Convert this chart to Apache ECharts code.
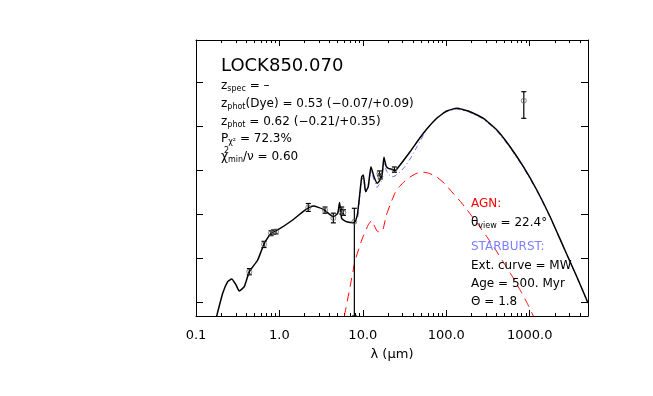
<!DOCTYPE html>
<html><head><meta charset="utf-8">
<script src="https://cdn.jsdelivr.net/npm/echarts@6/dist/echarts.min.js"></script>
<style>html,body{margin:0;padding:0;background:#fff}#c{width:653px;height:396px}</style>
</head><body><div id="c"></div>
<script>
// ---- axis ticks ----
const xMajorTicks = [0.1, 1, 10, 100, 1000];
const xMinorTicks = [0.2,0.3,0.4,0.5,0.6,0.7,0.8,0.9, 2,3,4,5,6,7,8,9, 20,30,40,50,60,70,80,90,
  200,300,400,500,600,700,800,900, 2000,3000,4000];
const yTicks = [0, 1, 2, 3, 4, 5];

// ---- total model (black) : wavelength (um), log flux (decades) ----
const totalLambda = [0.177,0.209,0.240,0.268,0.302,0.330,0.379,0.436,0.549,0.659,0.793,0.954,1.44,2.08,2.55,3.36,4.43,5.00,5.26,5.58,6.41,7.91,8.59,9.70,10.14,10.8,11.6,12.5,13.6,14.9,16.9,17.9,19.0,20.2,22.2,24.3,27.9,36.8,53.1,76.9,101,134,184,279,404,582,840,1217,1757,2536,3672,5000];
const totalFlux   = [-0.31,0.209,0.473,0.534,0.398,0.261,0.359,0.700,0.966,1.345,1.573,1.648,1.875,2.118,2.193,2.118,1.950,2.027,2.273,1.909,1.836,1.814,1.989,2.859,2.898,2.518,2.632,3.086,2.859,2.709,2.859,3.300,3.102,3.050,3.027,2.995,3.125,3.427,3.845,4.186,4.352,4.414,4.352,4.186,3.920,3.541,3.086,2.557,1.950,1.268,0.586,-0.01];

// ---- AGN component (red dashed) ----
const agnLambda = [6.0,7.03,8.06,9.70,11.6,12.7,13.6,14.8,16.1,17.5,19.0,21.2,24.3,27.9,33.9,42.3,49.9,60.5,75.5,96.8,117,146,178,234,308,385,480,615,767,931,1107];
const agnFlux   = [-0.31,0.352,0.943,1.420,1.761,1.864,1.761,1.625,1.591,1.670,1.966,2.216,2.489,2.648,2.807,2.920,2.966,2.943,2.864,2.693,2.511,2.307,2.102,1.807,1.489,1.216,0.927,0.602,0.284,-0.011,-0.31];

// ---- starburst component (blue dash-dot) ----
const sbLambda = [8.7,9.64,10.05,10.8,11.5,12.5,13.6,14.8,16.8,17.9,19.0,20.2,22.2,24.3,27.9,32.1,36.8,45.9,58.9,77.6,101,134,184,279,404,582,840,1217,1757,2536,3672,5000];
const sbFlux   = [1.95,2.784,2.830,2.489,2.580,3.011,2.784,2.614,2.761,3.216,3.011,2.920,2.852,2.875,2.966,3.091,3.261,3.580,3.955,4.205,4.341,4.398,4.335,4.17,3.90,3.52,3.07,2.54,1.94,1.26,0.58,-0.02];

// ---- photometry: wavelength, value, lower, upper ----
const obsLambda = [0.436,0.654,0.793,0.850,0.910,2.22,3.52,4.43,5.58,5.84,7.91,15.8,16.2,23.9,850];
const obsFlux   = [0.700,1.323,1.573,1.602,1.609,2.159,2.102,1.920,2.091,2.045,1.836,2.932,2.864,3.023,4.586];
const obsLow    = [0.63,1.25,1.52,1.55,1.56,2.07,2.03,1.81,2.01,1.98,-0.307,2.88,2.81,2.96,4.186];
const obsHigh   = [0.77,1.39,1.63,1.65,1.66,2.25,2.17,2.03,2.17,2.11,2.141,2.99,2.92,3.08,4.791];

const FONT = '"DejaVu Sans", sans-serif';
const YMIN = -0.307, YMAX = 5.966;
const zip = (a, b) => a.map((v, i) => [v, b[i]]);

function xAxis(pos, ticks, len, showLine, showLabel) {
  return {
    type: 'log', position: pos, min: 0.1, max: 5000, logBase: 10,
    axisLine: { show: showLine, onZero: false, lineStyle: { color: '#000', width: 1 } },
    axisTick: { show: true, inside: true, length: len, customValues: ticks, lineStyle: { color: '#000', width: 1 } },
    axisLabel: showLabel ? { show: true, customValues: xMajorTicks, margin: 13, color: '#000',
      fontFamily: FONT, fontSize: 13, formatter: v => (+v).toFixed(1) } : { show: false },
    splitLine: { show: false }, minorTick: { show: false },
    name: showLabel ? 'λ (μm)' : '', nameLocation: 'middle', nameGap: 32,
    nameTextStyle: { color: '#000', fontFamily: FONT, fontSize: 13 }
  };
}
function yAxis(pos) {
  return {
    type: 'value', position: pos, min: YMIN, max: YMAX,
    axisLine: { show: true, onZero: false, lineStyle: { color: '#000', width: 1 } },
    axisTick: { show: true, inside: true, length: 7, customValues: yTicks, lineStyle: { color: '#000', width: 1 } },
    axisLabel: { show: false }, splitLine: { show: false }
  };
}

const errorSeries = {
  type: 'custom', xAxisIndex: 0, yAxisIndex: 0, z: 5, silent: true,
  data: obsLambda.map((l, i) => [l, obsFlux[i], obsLow[i], obsHigh[i]]),
  renderItem: (params, api) => {
    const x = api.value(0);
    const top = api.coord([x, api.value(3)]);
    const bot = api.coord([x, api.value(2)]);
    const st = { stroke: '#000', lineWidth: 1.2 };
    return { type: 'group', children: [
      { type: 'line', shape: { x1: top[0], y1: top[1], x2: bot[0], y2: bot[1] }, style: st },
      { type: 'line', shape: { x1: top[0]-2.5, y1: top[1], x2: top[0]+2.5, y2: top[1] }, style: st },
      { type: 'line', shape: { x1: bot[0]-2.5, y1: bot[1], x2: bot[0]+2.5, y2: bot[1] }, style: st }
    ]};
  }
};

function rich() {
  return {
    m: { fontFamily: FONT, fontSize: 12, fill: '#000' },
    sub: { fontFamily: FONT, fontSize: 8, fill: '#000', padding: [6, 0, 0, 0] },
    r: { fontFamily: FONT, fontSize: 12, fill: '#ff0000' },
    b: { fontFamily: FONT, fontSize: 12, fill: '#8080ff' }
  };
}
function txt(x, y, text) {
  return { type: 'text', x: x, y: y, z: 100, style: { text: text, rich: rich(), verticalAlign: 'middle', align: 'left' } };
}

const option = {
  animation: false,
  backgroundColor: '#fff',
  grid: { left: 196, top: 40, right: 65, bottom: 80, containLabel: false },
  xAxis: [
    xAxis('bottom', xMajorTicks, 6, true, true),
    xAxis('bottom', xMinorTicks, 3, false, false),
    xAxis('top', xMajorTicks, 6, true, false),
    xAxis('top', xMinorTicks, 3, false, false)
  ],
  yAxis: [yAxis('left'), yAxis('right')],
  series: [
    { type: 'line', data: zip(agnLambda, agnFlux), showSymbol: false, z: 2, clip: true, smooth: 0.15,
      lineStyle: { color: '#ff0000', width: 1, type: [9, 6] } },
    { type: 'line', data: zip(sbLambda, sbFlux), showSymbol: false, z: 2, clip: true,
      lineStyle: { color: '#7070ff', width: 1, type: [5, 3, 1, 3] } },
    { type: 'line', data: zip(totalLambda, totalFlux), showSymbol: false, z: 3, clip: true, smooth: 0.15,
      lineStyle: { color: '#000', width: 1.5 } },
    errorSeries,
    { type: 'scatter', data: zip(obsLambda, obsFlux), symbol: 'circle', symbolSize: 5, z: 6,
      itemStyle: { color: 'rgba(0,0,0,0)', borderColor: '#666', borderWidth: 1 } }
  ],
  graphic: [
    { type: 'text', x: 221, y: 66, z: 100, style: { text: 'LOCK850.070', font: '18px ' + FONT, fill: '#000', verticalAlign: 'middle' } },
    txt(221, 86, '{m|z}{sub|spec}{m| = –}'),
    txt(221, 103.5, '{m|z}{sub|phot}{m|(Dye) = 0.53 (−0.07/+0.09)}'),
    txt(221, 121.5, '{m|z}{sub|phot}{m| = 0.62 (−0.21/+0.35)}'),
    txt(221, 139, '{m|P}{sub|χ²}{m| = 72.3%}'),
    txt(221, 157, '{m|χ}{sub|min}{m|/ν = 0.60}'),
    { type: 'text', x: 224, y: 151, z: 100, style: { text: '2', font: '8px ' + FONT, fill: '#000', verticalAlign: 'middle' } },
    txt(471, 204, '{r|AGN:}'),
    txt(471, 222.5, '{m|θ}{sub|view}{m| = 22.4°}'),
    txt(471, 247, '{b|STARBURST:}'),
    txt(471, 265.5, '{m|Ext. curve = MW}'),
    txt(471, 284, '{m|Age = 500. Myr}'),
    txt(471, 301.5, '{m|Θ = 1.8}')
  ]
};
const chart = echarts.init(document.getElementById('c'), null, { renderer: 'canvas' });
chart.setOption(option);
</script></body></html>
